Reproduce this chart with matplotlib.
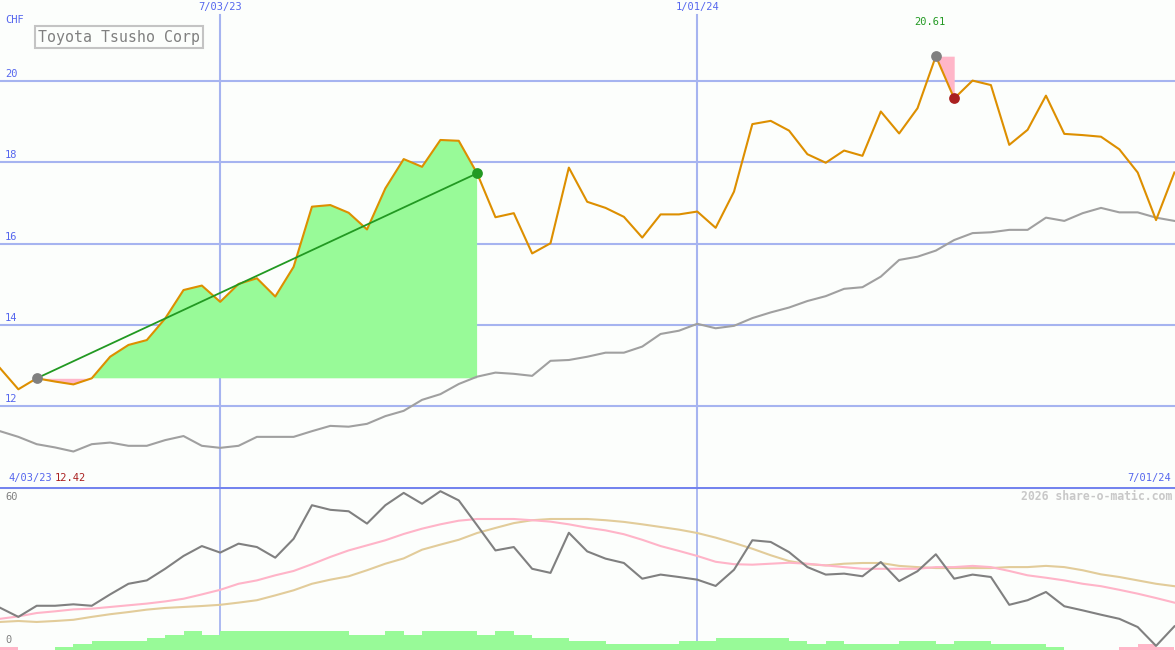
import numpy as np
import matplotlib
matplotlib.use("Agg")
import matplotlib.pyplot as plt

# weekly closes, CHF (index 0 = first week shown)
price = [12.94, 12.42, 12.69, 12.61, 12.54, 12.69, 13.22, 13.51, 13.63, 14.16,
         14.86, 14.97, 14.57, 15.01, 15.15, 14.70, 15.43, 16.91, 16.95, 16.76,
         16.35, 17.36, 18.08, 17.89, 18.55, 18.53, 17.73, 16.65, 16.75, 15.76,
         16.01, 17.87, 17.03, 16.88, 16.66, 16.15, 16.72, 16.72, 16.79, 16.39,
         17.28, 18.94, 19.02, 18.78, 18.20, 17.99, 18.29, 18.16, 19.25, 18.71,
         19.33, 20.61, 19.57, 20.01, 19.90, 18.43, 18.80, 19.64, 18.70, 18.67,
         18.63, 18.32, 17.75, 16.58, 17.75]

# long moving average (grey line in the price panel)
ma_long = [11.39, 11.25, 11.07, 10.99, 10.89, 11.07, 11.11, 11.03, 11.03, 11.17,
           11.27, 11.03, 10.98, 11.03, 11.25, 11.25, 11.25, 11.39, 11.52, 11.50,
           11.57, 11.76, 11.89, 12.16, 12.30, 12.55, 12.73, 12.83, 12.80, 12.75,
           13.12, 13.14, 13.22, 13.32, 13.32, 13.47, 13.78, 13.86, 14.03, 13.92,
           13.98, 14.17, 14.31, 14.43, 14.59, 14.71, 14.89, 14.93, 15.19, 15.60,
           15.68, 15.83, 16.09, 16.26, 16.28, 16.34, 16.34, 16.64, 16.56, 16.75,
           16.88, 16.77, 16.77, 16.64, 16.56]

# lower panel: oscillator and its two averages
osc = [17.5, 13.7, 18.3, 18.3, 18.9, 18.3, 23.0, 27.4, 28.8, 33.6,
       38.9, 43.0, 40.3, 44.0, 42.6, 38.2, 46.0, 59.9, 58.0, 57.4,
       52.3, 59.9, 65.0, 60.5, 65.7, 61.9, 51.6, 41.2, 42.6, 33.6,
       31.9, 48.5, 40.8, 37.8, 36.0, 29.5, 31.2, 30.2, 29.1, 26.5,
       33.2, 45.4, 44.7, 40.5, 34.3, 31.2, 31.6, 30.5, 36.4, 28.5,
       32.6, 39.6, 29.5, 31.2, 30.2, 18.7, 20.6, 24.0, 18.1, 16.4,
       14.6, 12.9, 9.5, 1.7, 9.8]
osc_fast = [12.9, 13.9, 15.3, 16.0, 16.8, 17.1, 17.8, 18.5, 19.2, 20.1,
            21.2, 23.0, 24.9, 27.4, 28.8, 30.9, 32.7, 35.5, 38.5, 41.2,
            43.3, 45.4, 48.0, 50.2, 52.0, 53.5, 54.2, 54.2, 54.2, 53.7,
            53.1, 52.0, 50.6, 49.5, 47.9, 45.6, 43.0, 41.0, 38.9, 36.5,
            35.5, 35.3, 35.7, 36.1, 35.7, 35.0, 34.3, 33.6, 33.6, 33.6,
            33.6, 34.3, 34.3, 34.8, 34.3, 32.7, 30.9, 29.9, 28.8, 27.4,
            26.4, 24.9, 23.3, 21.5, 19.6]
osc_slow = [11.6, 12.0, 11.6, 12.0, 12.5, 13.7, 14.8, 15.7, 16.7, 17.4,
            17.8, 18.2, 18.7, 19.6, 20.6, 22.6, 24.7, 27.4, 29.1, 30.5,
            33.0, 35.7, 37.9, 41.5, 43.6, 45.6, 48.4, 50.5, 52.5, 53.7,
            54.2, 54.2, 54.2, 53.7, 53.0, 52.0, 50.9, 49.8, 48.4, 46.5,
            44.3, 41.9, 39.2, 36.8, 35.5, 35.0, 35.7, 36.0, 36.0, 34.8,
            34.3, 33.9, 33.9, 33.9, 33.9, 34.3, 34.3, 34.8, 34.3, 33.0,
            31.3, 30.2, 28.8, 27.4, 26.4]
# weekly histogram, negative = pink
hist = [-1.2, 0, 0, 1.2, 2.6, 3.7, 3.7, 3.7, 5.0, 6.3,
        7.9, 6.3, 7.9, 7.9, 7.9, 7.9, 7.9, 7.9, 7.9, 6.3,
        6.3, 7.9, 6.3, 7.9, 7.9, 7.9, 6.3, 7.9, 6.3, 5.0,
        5.0, 3.7, 3.7, 2.6, 2.6, 2.6, 2.6, 3.7, 3.7, 5.0,
        5.0, 5.0, 5.0, 3.7, 2.6, 3.7, 2.6, 2.6, 2.6, 3.7,
        3.7, 2.6, 3.7, 3.7, 2.6, 2.6, 2.6, 1.2, 0, 0,
        0, -1.2, -2.6, -1.2]

price_ticks = [20, 18, 16, 14, 12]
date_ticks = {12: "7/03/23", 38: "1/01/24"}
start_label = "4/03/23"
end_label = "7/01/24"
trend_start, trend_end = 2, 26   # green trend window
peak, after_peak = 51, 52         # high and the drop after it

BG = "#fcfefc"
GRID = "#a6b4f0"
BLUE_TXT = "#5566ee"
MONO = "DejaVu Sans Mono"

W, H = 1175, 650
fig = plt.figure(figsize=(W / 100, H / 100), dpi=100, facecolor=BG)
x = np.arange(len(price))
xmax = W / 18.35

# ---- price panel (pixel rows 0..487)
ax = fig.add_axes([0, (H - 487) / H, 1, 487 / H])
ax.set_facecolor(BG)
ax.set_xlim(0, xmax)
ax.set_ylim(20 - 406 / 40.67, 20 + 81 / 40.67)
ax.axis("off")

for v in price_ticks:
    ax.axhline(v, color=GRID, lw=1.5, zorder=1)
    ax.text(5 / 18.35, v + 2 / 40.67, str(v), color=BLUE_TXT, fontsize=7.5,
            family=MONO, va="bottom", ha="left")
for i, lab in date_ticks.items():
    ax.plot([i, i], [10, 20 + 66 / 40.67], color=GRID, lw=1.5, zorder=1)
    ax.text(i, 20 + 69 / 40.67, lab, color=BLUE_TXT, fontsize=7.5,
            family=MONO, ha="center", va="bottom")

# fill between start price and price over the trend window
xs = x[trend_start:trend_end + 1]
ps = np.array(price[trend_start:trend_end + 1])
base = price[trend_start]
ax.fill_between(xs, base, ps, where=ps >= base, interpolate=True,
                color="#98fa98", lw=0, zorder=2)
ax.fill_between(xs, base, ps, where=ps < base, interpolate=True,
                color="#ffb6c8", lw=0, zorder=2)
# drop after the peak
ax.fill_between(x[peak:after_peak + 1], price[peak], price[peak:after_peak + 1],
                color="#ffb6c8", lw=0, zorder=2)

ax.plot(x, ma_long, color="#a0a0a0", lw=1.5, zorder=3)
ax.plot(x, price, color="#dd8f00", lw=1.5, zorder=4)
ax.plot([trend_start, trend_end], [price[trend_start], price[trend_end]],
        color="#229922", lw=1.3, zorder=5)

ax.scatter([trend_start, peak], [price[trend_start], price[peak]], s=60,
           color="#808080", zorder=6, lw=0)
ax.scatter([trend_end], [price[trend_end]], s=60, color="#229922", zorder=6, lw=0)
ax.scatter([after_peak], [price[after_peak]], s=60, color="#aa2020", zorder=6, lw=0)

ax.text(peak - 0.3, 20 + 54 / 40.67, "%.2f" % price[peak], color="#229922",
        fontsize=7.5, family=MONO, ha="center", va="bottom")
ax.text(5 / 18.35, 20 + 56 / 40.67, "CHF", color=BLUE_TXT, fontsize=7.5,
        family=MONO, va="bottom")
ax.text(38 / 18.35, 20 + 44 / 40.67, "Toyota Tsusho Corp", color="#808080",
        fontsize=10.7, family=MONO, va="center",
        bbox=dict(boxstyle="square,pad=0.22", fc=BG, ec="#c4c4c4", lw=1.5))

low = min(price)
ax.text(8 / 18.35, 20 - 402 / 40.67, start_label, color=BLUE_TXT, fontsize=7.5,
        family=MONO, va="bottom")
ax.text(55 / 18.35, 20 - 402 / 40.67, "%.2f" % low, color="#aa2020", fontsize=7.5,
        family=MONO, va="bottom")
ax.text(xmax - 4 / 18.35, 20 - 402 / 40.67, end_label, color=BLUE_TXT,
        fontsize=7.5, family=MONO, va="bottom", ha="right")

# ---- lower panel (pixel rows 487..650)
ax2 = fig.add_axes([0, 0, 1, 163 / H])
ax2.set_facecolor(BG)
ax2.set_xlim(0, xmax)
ax2.set_ylim(0, 163 / 2.417)
ax2.axis("off")

for i in date_ticks:
    ax2.axvline(i, color=GRID, lw=1.3, zorder=1)

hist = np.array(hist)
bx = np.arange(len(hist))
ax2.bar(bx[hist > 0], hist[hist > 0], width=1, align="edge", color="#98fa98",
        lw=0, zorder=2)
ax2.bar(bx[hist < 0], -hist[hist < 0], width=1, align="edge", color="#ffb6c8",
        lw=0, zorder=2)

ax2.plot(x, osc_slow, color="#e2cc9a", lw=1.5, zorder=3)
ax2.plot(x, osc_fast, color="#ffb4c8", lw=1.5, zorder=3)
ax2.plot(x, osc, color="#808080", lw=1.5, zorder=4)

ax2.axhline(163 / 2.417, color="#7484ee", lw=2.2, zorder=5)
ax2.text(5 / 18.35, 60 * 0.985 + 2, "60", color="#808080", fontsize=7.5,
         family=MONO, va="bottom")
ax2.text(5 / 18.35, 2, "0", color="#808080", fontsize=7.5, family=MONO,
         va="bottom")
ax2.text(xmax - 3 / 18.35, 153 / 2.417, "2026 share-o-matic.com", color="#c8c8c8",
         fontsize=8.3, family=MONO, va="center", ha="right", fontweight="bold")

fig.savefig("out.png", dpi=100, facecolor=BG)
